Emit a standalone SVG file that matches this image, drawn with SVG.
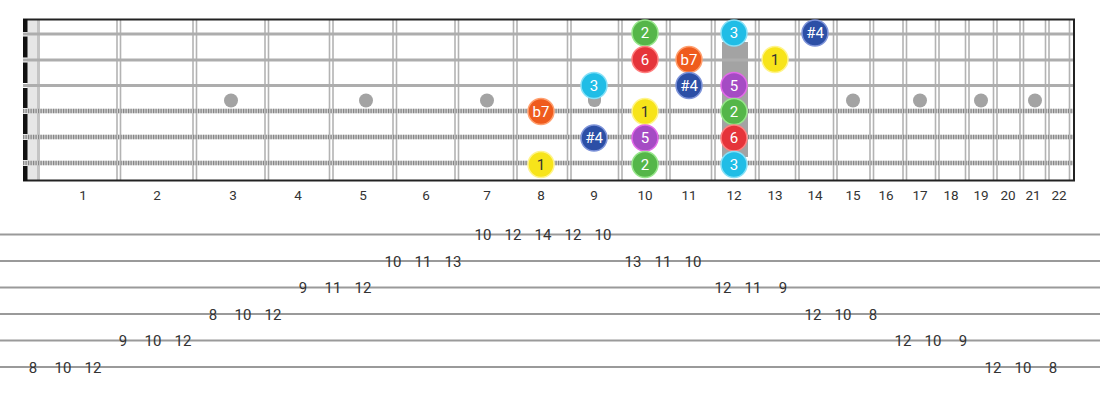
<svg xmlns="http://www.w3.org/2000/svg" width="1100" height="400" viewBox="0 0 1100 400">
<style>
.fret{stroke:#b3b3b3;stroke-width:1.6}
.plain{stroke:#adadad;stroke-width:3.2}
.woundbase{stroke:#cfcfcf;stroke-width:4.5}
.woundtex{stroke:#6e6e6e;stroke-width:4.5;stroke-dasharray:1.2 1.3;opacity:0.75}
.dot{fill:#a3a3a3}
.fn{font-family:Roboto,"Liberation Sans",sans-serif;font-size:13.5px;fill:#333;text-anchor:middle}
.tab{stroke:#9a9a9a;stroke-width:2}
.tn{font-family:Roboto,"Liberation Sans",sans-serif;font-size:15px;fill:#333;text-anchor:middle}
.nt{font-family:Roboto,"Liberation Sans",sans-serif;font-size:15px;fill:#fff;text-anchor:middle}
.nt.dk{fill:#333}
.n1{fill:#f7e41a;stroke:#fff48c;stroke-width:1.5}
.n2{fill:#55b649;stroke:#97e68b;stroke-width:1.5}
.n3{fill:#20bde6;stroke:#86e0f7;stroke-width:1.5}
.n4{fill:#2c4fa6;stroke:#7d93d9;stroke-width:1.5}
.n5{fill:#a54bc4;stroke:#e26ae8;stroke-width:1.5}
.n6{fill:#e5343a;stroke:#ff8080;stroke-width:1.5}
.n7{fill:#ef5b1d;stroke:#ffa070;stroke-width:1.5}
</style>
<rect width="1100" height="400" fill="#fff"/>
<g id="fretboard">
  <rect x="27" y="19" width="11" height="162" fill="#e6e6e6"/>
  <rect x="37" y="19" width="3" height="162" fill="#c4c4c4"/>
  <g id="frets">
    <line class="fret" x1="117" y1="19" x2="117" y2="181"/><line class="fret" x1="120.5" y1="19" x2="120.5" y2="181"/>
    <line class="fret" x1="193" y1="19" x2="193" y2="181"/><line class="fret" x1="196.5" y1="19" x2="196.5" y2="181"/>
    <line class="fret" x1="265" y1="19" x2="265" y2="181"/><line class="fret" x1="268.5" y1="19" x2="268.5" y2="181"/>
    <line class="fret" x1="329.5" y1="19" x2="329.5" y2="181"/><line class="fret" x1="333" y1="19" x2="333" y2="181"/>
    <line class="fret" x1="393" y1="19" x2="393" y2="181"/><line class="fret" x1="396.5" y1="19" x2="396.5" y2="181"/>
    <line class="fret" x1="455" y1="19" x2="455" y2="181"/><line class="fret" x1="458.5" y1="19" x2="458.5" y2="181"/>
    <line class="fret" x1="513.5" y1="19" x2="513.5" y2="181"/><line class="fret" x1="517" y1="19" x2="517" y2="181"/>
    <line class="fret" x1="567.5" y1="19" x2="567.5" y2="181"/><line class="fret" x1="571" y1="19" x2="571" y2="181"/>
    <line class="fret" x1="618.5" y1="19" x2="618.5" y2="181"/><line class="fret" x1="622" y1="19" x2="622" y2="181"/>
    <line class="fret" x1="666.5" y1="19" x2="666.5" y2="181"/><line class="fret" x1="670" y1="19" x2="670" y2="181"/>
    <line class="fret" x1="711.5" y1="19" x2="711.5" y2="181"/><line class="fret" x1="715" y1="19" x2="715" y2="181"/>
    <line class="fret" x1="755.5" y1="19" x2="755.5" y2="181"/><line class="fret" x1="759" y1="19" x2="759" y2="181"/>
    <line class="fret" x1="795.5" y1="19" x2="795.5" y2="181"/><line class="fret" x1="799" y1="19" x2="799" y2="181"/>
    <line class="fret" x1="833.5" y1="19" x2="833.5" y2="181"/><line class="fret" x1="837" y1="19" x2="837" y2="181"/>
    <line class="fret" x1="870" y1="19" x2="870" y2="181"/><line class="fret" x1="873.5" y1="19" x2="873.5" y2="181"/>
    <line class="fret" x1="903" y1="19" x2="903" y2="181"/><line class="fret" x1="906.5" y1="19" x2="906.5" y2="181"/>
    <line class="fret" x1="935.5" y1="19" x2="935.5" y2="181"/><line class="fret" x1="939" y1="19" x2="939" y2="181"/>
    <line class="fret" x1="965.5" y1="19" x2="965.5" y2="181"/><line class="fret" x1="969" y1="19" x2="969" y2="181"/>
    <line class="fret" x1="993.5" y1="19" x2="993.5" y2="181"/><line class="fret" x1="997" y1="19" x2="997" y2="181"/>
    <line class="fret" x1="1020" y1="19" x2="1020" y2="181"/><line class="fret" x1="1023.5" y1="19" x2="1023.5" y2="181"/>
    <line class="fret" x1="1045.5" y1="19" x2="1045.5" y2="181"/><line class="fret" x1="1049" y1="19" x2="1049" y2="181"/>
    <line class="fret" x1="1069.5" y1="19" x2="1069.5" y2="181"/>
  </g>
  <g id="inlays">
    <circle class="dot" cx="231" cy="100.5" r="7"/>
    <circle class="dot" cx="366" cy="100.5" r="7"/>
    <circle class="dot" cx="487" cy="100.5" r="7"/>
    <rect class="dot" x="588" y="90" width="13" height="17" rx="6"/>
    <rect class="dot" x="722" y="42" width="26" height="115"/>
    <circle class="dot" cx="853" cy="100.5" r="7"/>
    <circle class="dot" cx="920" cy="100.5" r="7"/>
    <circle class="dot" cx="981" cy="100.5" r="7"/>
    <circle class="dot" cx="1035" cy="100.5" r="7"/>
  </g>
  <g id="strings">
    <line class="plain" x1="23" y1="34" x2="1075" y2="34"/>
    <line class="plain" x1="23" y1="60" x2="1075" y2="60"/>
    <line class="plain" x1="23" y1="85.5" x2="1075" y2="85.5"/>
    <line class="woundbase" x1="23" y1="111" x2="1075" y2="111"/><line class="woundtex" x1="23" y1="111" x2="1075" y2="111"/>
    <line class="woundbase" x1="23" y1="137" x2="1075" y2="137"/><line class="woundtex" x1="23" y1="137" x2="1075" y2="137"/>
    <line class="woundbase" x1="23" y1="163" x2="1075" y2="163"/><line class="woundtex" x1="23" y1="163" x2="1075" y2="163"/>
  </g>
  <line x1="23" y1="19.5" x2="1075" y2="19.5" stroke="#222" stroke-width="2"/>
  <line x1="23" y1="180.5" x2="1075" y2="180.5" stroke="#222" stroke-width="2"/>
  <line x1="1074" y1="19" x2="1074" y2="181" stroke="#222" stroke-width="2"/>
  <g id="nut" fill="#111">
    <rect x="23" y="19" width="4.5" height="13"/>
    <rect x="23" y="36.5" width="4.5" height="21"/>
    <rect x="23" y="62.5" width="4.5" height="20.5"/>
    <rect x="23" y="88" width="4.5" height="20"/>
    <rect x="23" y="114" width="4.5" height="20"/>
    <rect x="23" y="140" width="4.5" height="20"/>
    <rect x="23" y="166" width="4.5" height="15"/>
  </g>
</g>
<g id="fret-numbers">
  <text class="fn" x="83" y="200">1</text><text class="fn" x="157" y="200">2</text><text class="fn" x="233" y="200">3</text>
  <text class="fn" x="298" y="200">4</text><text class="fn" x="363" y="200">5</text><text class="fn" x="426" y="200">6</text>
  <text class="fn" x="487" y="200">7</text><text class="fn" x="541" y="200">8</text><text class="fn" x="594" y="200">9</text>
  <text class="fn" x="645" y="200">10</text><text class="fn" x="689" y="200">11</text><text class="fn" x="734" y="200">12</text>
  <text class="fn" x="775" y="200">13</text><text class="fn" x="815" y="200">14</text><text class="fn" x="853" y="200">15</text>
  <text class="fn" x="886" y="200">16</text><text class="fn" x="920" y="200">17</text><text class="fn" x="951" y="200">18</text>
  <text class="fn" x="981" y="200">19</text><text class="fn" x="1008" y="200">20</text><text class="fn" x="1033" y="200">21</text>
  <text class="fn" x="1059" y="200">22</text>
</g>
<g id="notes">
  <g id="s1-f10"><circle class="n2" cx="645" cy="33" r="13"/><text class="nt" x="645" y="38.3">2</text></g>
  <g id="s1-f12"><circle class="n3" cx="734" cy="33" r="13"/><text class="nt" x="734" y="38.3">3</text></g>
  <g id="s1-f14"><circle class="n4" cx="815" cy="33" r="13"/><text class="nt" x="815" y="38.3">#4</text></g>
  <g id="s2-f10"><circle class="n6" cx="645" cy="59.5" r="13"/><text class="nt" x="645" y="64.8">6</text></g>
  <g id="s2-f11"><circle class="n7" cx="689" cy="59.5" r="13"/><text class="nt" x="689" y="64.8">b7</text></g>
  <g id="s2-f13"><circle class="n1" cx="775" cy="59.5" r="13"/><text class="nt dk" x="775" y="64.8">1</text></g>
  <g id="s3-f9"><circle class="n3" cx="594" cy="85.5" r="13"/><text class="nt" x="594" y="90.8">3</text></g>
  <g id="s3-f11"><circle class="n4" cx="689" cy="85.5" r="13"/><text class="nt" x="689" y="90.8">#4</text></g>
  <g id="s3-f12"><circle class="n5" cx="734" cy="85.5" r="13"/><text class="nt" x="734" y="90.8">5</text></g>
  <g id="s4-f8"><circle class="n7" cx="541" cy="111.5" r="13"/><text class="nt" x="541" y="116.8">b7</text></g>
  <g id="s4-f10"><circle class="n1" cx="645" cy="111.5" r="13"/><text class="nt dk" x="645" y="116.8">1</text></g>
  <g id="s4-f12"><circle class="n2" cx="734" cy="111.5" r="13"/><text class="nt" x="734" y="116.8">2</text></g>
  <g id="s5-f9"><circle class="n4" cx="594" cy="138" r="13"/><text class="nt" x="594" y="143.3">#4</text></g>
  <g id="s5-f10"><circle class="n5" cx="645" cy="138" r="13"/><text class="nt" x="645" y="143.3">5</text></g>
  <g id="s5-f12"><circle class="n6" cx="734" cy="138" r="13"/><text class="nt" x="734" y="143.3">6</text></g>
  <g id="s6-f8"><circle class="n1" cx="541" cy="164.5" r="13"/><text class="nt dk" x="541" y="169.8">1</text></g>
  <g id="s6-f10"><circle class="n2" cx="645" cy="164.5" r="13"/><text class="nt" x="645" y="169.8">2</text></g>
  <g id="s6-f12"><circle class="n3" cx="734" cy="164.5" r="13"/><text class="nt" x="734" y="169.8">3</text></g>
</g>
<g id="tab-lines">
  <line class="tab" x1="0" y1="234.5" x2="1100" y2="234.5"/>
  <line class="tab" x1="0" y1="261" x2="1100" y2="261"/>
  <line class="tab" x1="0" y1="287.5" x2="1100" y2="287.5"/>
  <line class="tab" x1="0" y1="314" x2="1100" y2="314"/>
  <line class="tab" x1="0" y1="340.5" x2="1100" y2="340.5"/>
  <line class="tab" x1="0" y1="367" x2="1100" y2="367"/>
</g>
<g id="tab-numbers">
  <text class="tn" x="483" y="240">10</text><text class="tn" x="513" y="240">12</text><text class="tn" x="543" y="240">14</text><text class="tn" x="573" y="240">12</text><text class="tn" x="603" y="240">10</text>
  <text class="tn" x="393" y="266.5">10</text><text class="tn" x="423" y="266.5">11</text><text class="tn" x="453" y="266.5">13</text>
  <text class="tn" x="633" y="266.5">13</text><text class="tn" x="663" y="266.5">11</text><text class="tn" x="693" y="266.5">10</text>
  <text class="tn" x="303" y="293">9</text><text class="tn" x="333" y="293">11</text><text class="tn" x="363" y="293">12</text>
  <text class="tn" x="723" y="293">12</text><text class="tn" x="753" y="293">11</text><text class="tn" x="783" y="293">9</text>
  <text class="tn" x="213" y="319.5">8</text><text class="tn" x="243" y="319.5">10</text><text class="tn" x="273" y="319.5">12</text>
  <text class="tn" x="813" y="319.5">12</text><text class="tn" x="843" y="319.5">10</text><text class="tn" x="873" y="319.5">8</text>
  <text class="tn" x="123" y="346">9</text><text class="tn" x="153" y="346">10</text><text class="tn" x="183" y="346">12</text>
  <text class="tn" x="903" y="346">12</text><text class="tn" x="933" y="346">10</text><text class="tn" x="963" y="346">9</text>
  <text class="tn" x="33" y="372.5">8</text><text class="tn" x="63" y="372.5">10</text><text class="tn" x="93" y="372.5">12</text>
  <text class="tn" x="993" y="372.5">12</text><text class="tn" x="1023" y="372.5">10</text><text class="tn" x="1053" y="372.5">8</text>
</g>
</svg>
